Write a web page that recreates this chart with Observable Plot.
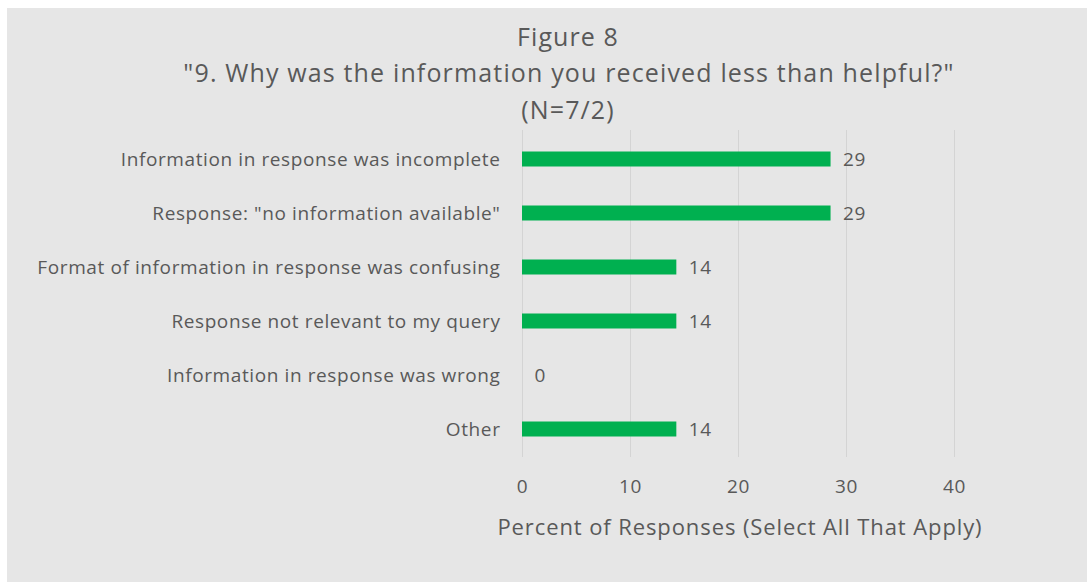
<!DOCTYPE html>
<html>
<head>
<meta charset="utf-8">
<script src="https://cdn.jsdelivr.net/npm/d3@7"></script>
<script src="https://cdn.jsdelivr.net/npm/@observablehq/plot@0.6"></script>
<style>
  html, body { margin: 0; padding: 0; background: #ffffff; }
  #wrap { position: relative; width: 1087px; height: 582px; overflow: hidden; font-family: "Open Sans", sans-serif; color: #595959; }
  #bg { position: absolute; left: 7px; top: 8px; right: 0; bottom: 0; background: #e6e6e6; }
  .t { position: absolute; white-space: nowrap; transform: translateX(-50%); line-height: 1; }
  #chart { position: absolute; left: 0; top: 0; }
</style>
</head>
<body>
<div id="wrap">
  <div id="bg"></div>
  <div id="chart"></div>
  <div class="t" id="t1" style="left:568px; top:24px; font-size:25px; letter-spacing:1.1px;">Figure 8</div>
  <div class="t" id="t2" style="left:569px; top:60px; font-size:25px; letter-spacing:1.15px;">"9. Why was the information you received less than helpful?"</div>
  <div class="t" id="t3" style="left:568px; top:97px; font-size:25px; letter-spacing:1.1px;">(N=7/2)</div>
  <div class="t" id="xt" style="left:740px; top:515px; font-size:22px; letter-spacing:0.9px;">Percent of Responses (Select All That Apply)</div>
</div>
<script>
const categories = [
  "Information in response was incomplete",
  "Response: \"no information available\"",
  "Format of information in response was confusing",
  "Response not relevant to my query",
  "Information in response was wrong",
  "Other"
];
const percents = [28.57, 28.57, 14.29, 14.29, 0, 14.29];
const xTicks = [0, 10, 20, 30, 40];

const data = categories.map((c, i) => ({category: c, value: percents[i]}));

const chart = Plot.plot({
  width: 1087,
  height: 582,
  marginLeft: 522,
  marginRight: 133,
  marginTop: 130,
  marginBottom: 125,
  style: {background: "transparent", fontFamily: "Open Sans, sans-serif", color: "#595959", fontSize: "19px", letterSpacing: "0.6px"},
  x: {domain: [0, 40], ticks: xTicks, label: null, tickSize: 0, tickPadding: 22},
  y: {domain: categories, label: null, padding: 0, tickSize: 0, tickPadding: 22},
  marks: [
    Plot.ruleX(xTicks, {stroke: "#d4d4d4", strokeWidth: 1}),
    Plot.barX(data, {x: "value", y: "category", fill: "#00b050", insetTop: 19.5, insetBottom: 19.5}),
    Plot.text(data, {x: "value", y: "category", text: d => d3.format(".0f")(d.value), textAnchor: "start", dx: 12, fontSize: 19, fill: "#595959"})
  ]
});
chart.querySelectorAll("[aria-label='y-axis tick label'], [aria-label='x-axis tick label']").forEach(g => { g.setAttribute("fill", "#595959"); });
document.getElementById("chart").appendChild(chart);
</script>
</body>
</html>
